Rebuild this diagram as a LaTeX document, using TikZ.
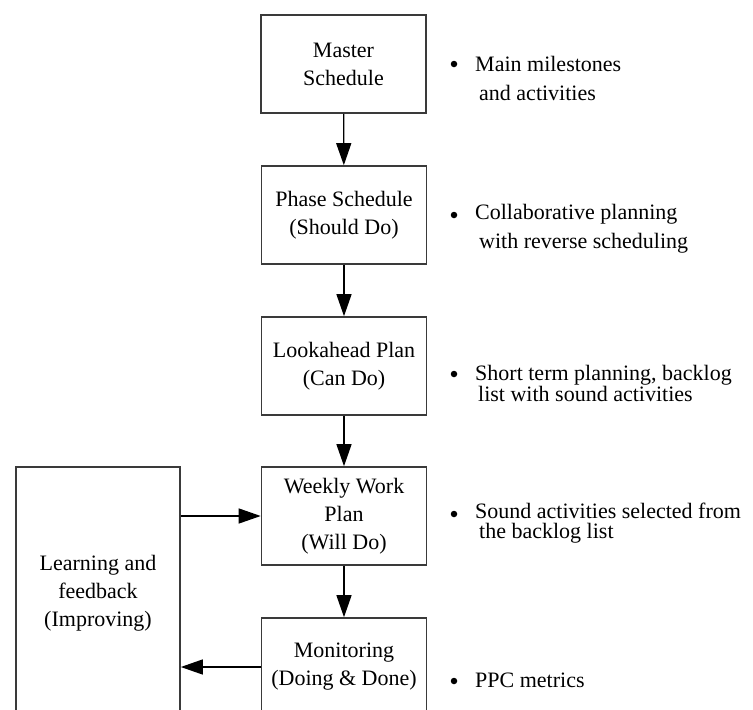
\documentclass[tikz,border=0pt]{standalone}
\usepackage{fontspec}
\setmainfont{Liberation Serif}
\usetikzlibrary{arrows.meta}
\definecolor{edge}{HTML}{3A3A3A}
\tikzset{
  stage/.style={draw=edge, line width=1.6pt, fill=white, minimum width=165pt, minimum height=98pt,
    align=center, inner sep=0pt, font=\fontsize{22}{28}\selectfont},
  flow/.style={draw=black, line width=1.3pt, -{Triangle[length=22pt,width=15pt]}},
  note/.style={anchor=west, align=left, inner sep=0pt, font=\fontsize{22}{29}\selectfont},
  tightnote/.style={note, font=\fontsize{22}{20}\selectfont},
  dot/.style={circle, fill=black, inner sep=0pt, minimum size=6.5pt}
}
\begin{document}
\begin{tikzpicture}[x=1pt,y=-1pt]
\useasboundingbox (0,0) rectangle (753,710);
\clip (0,0) rectangle (753,710);
\node[stage] (ms) at (343.5,64) {Master\\Schedule};
\node[stage] (ps) at (344,215) {Phase Schedule\\(Should Do)};
\node[stage] (la) at (344,366) {Lookahead Plan\\(Can Do)};
\node[stage] (ww) at (344,516) {Weekly Work\\Plan\\(Will Do)};
\node[stage] (mo) at (344,667) {Monitoring\\(Doing \& Done)};
\node[stage, minimum width=164pt, minimum height=252pt] (lf) at (98,593) {Learning and\\feedback\\(Improving)};

\draw[flow] (ms) -- (ps);
\draw[flow] (ps) -- (la);
\draw[flow] (la) -- (ww);
\draw[flow] (ww) -- (mo);
\draw[flow] (lf.east |- ww.west) -- (ww.west);
\draw[flow] (mo.west) -- (lf.east |- mo.west);

\node[dot] (d1) at (454,64) {};
\node[note] (n1) at (475,78) {Main milestones\\\hspace{4pt}and activities};
\node[dot] (d2) at (454,215) {};
\node[note] (n2) at (475,229) {Collaborative planning\\\hspace{4pt}with reverse scheduling};
\node[dot] (d3) at (454,374) {};
\node[tightnote] (n3) at (475,383) {Short term planning, backlog\\\hspace{3pt}list with sound activities};
\node[dot] (d4) at (454,514) {};
\node[tightnote] (n4) at (475,523) {Sound activities selected from\\\hspace{4pt}the backlog list};
\node[dot] (d5) at (454,681) {};
\node[note] (n5) at (475,680) {PPC metrics};
\end{tikzpicture}
\end{document}
